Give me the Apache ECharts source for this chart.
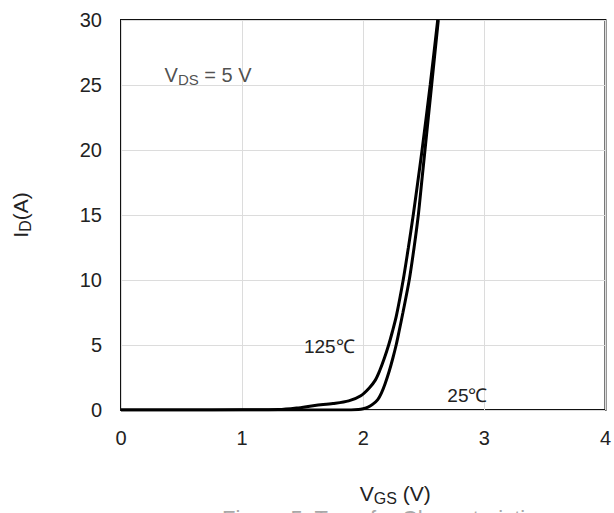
<!DOCTYPE html>
<html>
<head>
<meta charset="utf-8">
<script src="https://cdn.jsdelivr.net/npm/echarts@6/dist/echarts.min.js"></script>
<style>
  html, body { margin: 0; padding: 0; background: #fff; }
  #chart { width: 614px; height: 513px; }
</style>
</head>
<body>
<div id="chart"></div>
<script>
// Transfer characteristics: drain current vs gate-source voltage at V_DS = 5 V
const xTicks = [0, 1, 2, 3, 4];
const yTicks = [0, 5, 10, 15, 20, 25, 30];

// T = 125 °C
const vgs125 = [0, 0.5, 1.0, 1.3, 1.45, 1.6, 1.75, 1.88, 1.98, 2.05, 2.1, 2.135, 2.175, 2.21, 2.24, 2.275, 2.33, 2.373, 2.413, 2.45, 2.486, 2.553, 2.615];
const id125  = [0, 0, 0.01, 0.03, 0.15, 0.35, 0.5, 0.7, 1.1, 1.7, 2.3, 3.0, 4.0, 5.0, 6.0, 7.3, 10, 12.5, 15, 17.5, 20, 25, 30];

// T = 25 °C
const vgs25 = [0, 1.0, 1.5, 1.9, 1.96, 2.0, 2.04, 2.08, 2.12, 2.15, 2.18, 2.215, 2.245, 2.272, 2.295, 2.328, 2.38, 2.42, 2.455, 2.4825, 2.51, 2.565, 2.62];
const id25  = [0, 0, 0, 0, 0.03, 0.1, 0.22, 0.45, 0.8, 1.3, 2.0, 3.0, 4.0, 5.0, 6.0, 7.5, 10, 12.5, 15, 17.5, 20, 25, 30];

// Annotation anchors in data units
const label125 = [1.72, 4.85];
const label25  = [2.86, 1.08];
const labelVds = [0.36, 25.8];

const FONT = '"Liberation Sans", Arial, sans-serif';
const TXT = '#222';

const zip = (xs, ys) => xs.map((x, i) => [x, ys[i]]);

const chart = echarts.init(document.getElementById('chart'), null, { renderer: 'svg' });

const curve = (name, xs, ys, anchor) => ({
  name: name,
  type: 'line',
  data: zip(xs, ys),
  showSymbol: false,
  smooth: 0.3,
  clip: true,
  lineStyle: { color: '#000', width: 3 },
  markPoint: {
    symbol: 'circle', symbolSize: 0,
    label: { show: true, position: 'inside', color: TXT, fontSize: 19, fontFamily: FONT, formatter: name },
    data: [{ coord: anchor }]
  }
});

chart.setOption({
  animation: false,
  backgroundColor: '#fff',
  grid: {
    left: 121, right: 5, top: 20, bottom: 103,
    show: true, borderColor: '#111', borderWidth: 2, backgroundColor: 'transparent'
  },
  xAxis: {
    type: 'value',
    min: xTicks[0], max: xTicks[xTicks.length - 1], interval: 1,
    axisLine: { show: false },
    axisTick: { show: false },
    splitLine: { show: true, lineStyle: { color: '#dcdcdc', width: 1 } },
    axisLabel: { color: TXT, fontSize: 20, fontFamily: FONT, margin: 18 },
    name: '{v|V}{s|GS}{v| (V)}',
    nameLocation: 'middle',
    nameGap: 70,
    nameTextStyle: {
      padding: [0, 0, 0, 64],
      rich: {
        v: { fontSize: 21, color: TXT, fontFamily: FONT },
        s: { fontSize: 16, color: TXT, fontFamily: FONT, verticalAlign: 'bottom', padding: [10, 0, 0, 0] }
      }
    }
  },
  yAxis: {
    type: 'value',
    min: yTicks[0], max: yTicks[yTicks.length - 1], interval: 5,
    axisLine: { show: false },
    axisTick: { show: false },
    splitLine: { show: true, lineStyle: { color: '#dcdcdc', width: 1 } },
    axisLabel: { color: TXT, fontSize: 20, fontFamily: FONT, margin: 19 },
    name: '{v|I}{s|D}{v|(A)}',
    nameLocation: 'middle',
    nameGap: 88,
    nameTextStyle: {
      rich: {
        v: { fontSize: 21, color: TXT, fontFamily: FONT },
        s: { fontSize: 16, color: TXT, fontFamily: FONT, verticalAlign: 'bottom', padding: [10, 0, 0, 0] }
      }
    }
  },
  series: [
    curve('125℃', vgs125, id125, label125),
    curve('25℃', vgs25, id25, label25),
    {
      name: 'VDS',
      type: 'scatter',
      data: [labelVds],
      symbolSize: 0,
      silent: true,
      label: {
        show: true, position: 'right', distance: 0,
        formatter: '{v|V}{s|DS}{v| = 5 V}',
        rich: {
          v: { fontSize: 20, color: TXT, fontFamily: FONT },
          s: { fontSize: 15, color: TXT, fontFamily: FONT, verticalAlign: 'bottom', padding: [9, 0, 0, 0] }
        }
      }
    }
  ],
  graphic: [
    {
      type: 'text', left: 222, top: 507, silent: true,
      style: { text: 'Figure 5. Transfer Characteristics', fill: '#a8a8a8', fontSize: 22, fontFamily: FONT }
    }
  ]
});
</script>
</body>
</html>
